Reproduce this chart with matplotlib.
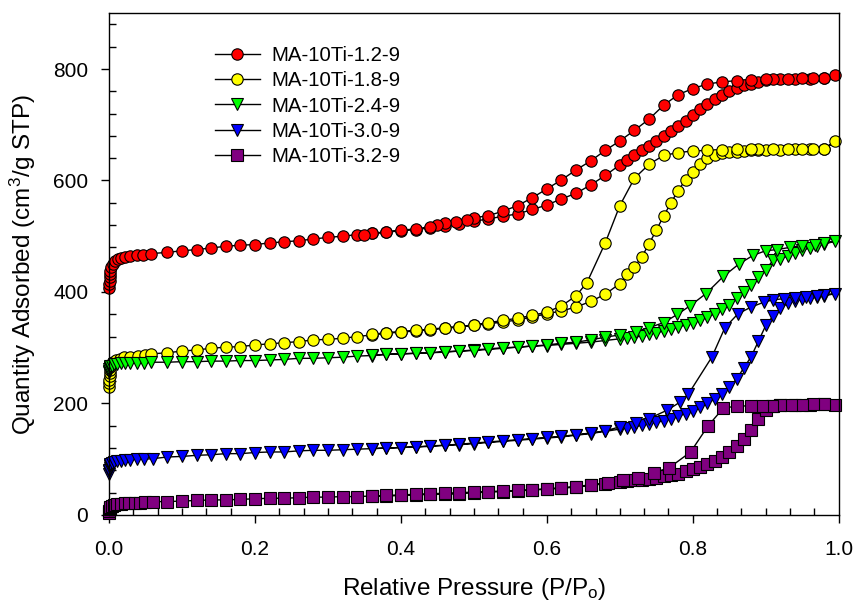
import matplotlib
matplotlib.use("Agg")
import matplotlib.pyplot as plt
from matplotlib.ticker import AutoMinorLocator

plt.rcParams['font.family'] = ['Liberation Sans', 'DejaVu Sans']
plt.rcParams['mathtext.fontset'] = 'custom'
plt.rcParams['mathtext.rm'] = 'Liberation Sans'
plt.rcParams['mathtext.it'] = 'Liberation Sans:italic'

# --- N2 isotherms: adsorption branch then desorption branch for each sample ---

# MA-10Ti-1.2-9
p_ads_12 = [0.0003, 0.0005, 0.0008, 0.001, 0.0015, 0.002, 0.003, 0.005, 0.008, 0.012, 0.016, 0.022, 0.029, 0.038, 0.047, 0.058,
            0.08, 0.10, 0.12, 0.14, 0.16, 0.18, 0.20, 0.22, 0.24, 0.26, 0.28, 0.30, 0.32, 0.34, 0.36, 0.38,
            0.40, 0.42, 0.44, 0.46, 0.48, 0.50, 0.52, 0.54, 0.56, 0.58, 0.60, 0.62, 0.64, 0.66, 0.68, 0.70,
            0.71, 0.72, 0.73, 0.74, 0.75, 0.76, 0.77, 0.78, 0.79, 0.80, 0.81, 0.82, 0.83, 0.84, 0.85, 0.86,
            0.87, 0.88, 0.89, 0.90, 0.92, 0.94, 0.96, 0.98, 0.995]
q_ads_12 = [408, 414, 420, 426, 432, 438, 444, 450, 455, 459, 461, 463, 464, 466, 467, 469,
            471, 474, 476, 479, 482, 484, 485, 488, 490, 492, 495, 498, 500, 503, 505, 507,
            510, 512, 515, 518, 522, 527, 531, 536, 540, 548, 556, 567, 577, 592, 609, 628,
            637, 645, 654, 662, 671, 680, 689, 698, 707, 717, 728, 738, 746, 753, 760, 766,
            771, 774, 777, 780, 782, 782, 782, 783, 790]
p_des_12 = [0.98, 0.965, 0.95, 0.93, 0.91, 0.90, 0.88, 0.86, 0.84, 0.82, 0.80, 0.78, 0.76, 0.74, 0.72, 0.70,
            0.68, 0.66, 0.64, 0.62, 0.60, 0.58, 0.56, 0.54, 0.52, 0.50, 0.49, 0.475, 0.46, 0.45, 0.44, 0.42,
            0.40, 0.38, 0.36, 0.35]
q_des_12 = [784, 783, 783, 782, 782, 782, 781, 779, 777, 773, 765, 754, 735, 710, 690, 671,
            654, 635, 619, 601, 585, 569, 555, 545, 537, 533, 530, 526, 523, 520, 517, 513,
            511, 508, 505, 503]

# MA-10Ti-1.8-9
p_ads_18 = [0.0002, 0.0004, 0.0006, 0.0008, 0.001, 0.0015, 0.002, 0.003, 0.006, 0.01, 0.015, 0.021, 0.029, 0.04, 0.049, 0.058,
            0.08, 0.10, 0.12, 0.14, 0.16, 0.18, 0.20, 0.22, 0.24, 0.26, 0.28, 0.30, 0.32, 0.34, 0.36, 0.38,
            0.40, 0.42, 0.44, 0.46, 0.48, 0.50, 0.52, 0.54, 0.56, 0.58, 0.60, 0.62, 0.64, 0.66, 0.68, 0.70,
            0.71, 0.72, 0.73, 0.74, 0.75, 0.76, 0.77, 0.78, 0.79, 0.80, 0.81, 0.82, 0.83, 0.84, 0.85, 0.86,
            0.87, 0.88, 0.89, 0.90, 0.92, 0.94, 0.96, 0.98, 0.995]
q_ads_18 = [229, 236, 243, 249, 255, 260, 265, 270, 274, 278, 280, 283, 284, 286, 287, 289,
            291, 294, 296, 299, 301, 302, 305, 307, 309, 311, 314, 315, 317, 320, 323, 326,
            328, 330, 332, 335, 337, 340, 343, 346, 350, 355, 361, 366, 373, 383, 396, 415,
            432, 445, 463, 486, 511, 536, 560, 582, 601, 616, 630, 640, 646, 649, 651, 652,
            653, 654, 655, 655, 655, 656, 656, 656, 670]
p_des_18 = [0.98, 0.965, 0.95, 0.93, 0.91, 0.89, 0.88, 0.86, 0.84, 0.82, 0.80, 0.78, 0.76, 0.74, 0.72, 0.70,
            0.68, 0.655, 0.64, 0.62, 0.60, 0.58, 0.56, 0.54, 0.52, 0.50, 0.48, 0.46, 0.44, 0.42, 0.40, 0.38, 0.36]
q_des_18 = [657, 657, 657, 657, 656, 656, 656, 656, 655, 654, 653, 650, 645, 629, 604, 555,
            488, 417, 393, 375, 364, 358, 353, 349, 345, 341, 338, 336, 333, 331, 329, 327, 324]

# MA-10Ti-2.4-9
p_ads_24 = [0.0002, 0.0004, 0.0006, 0.0008, 0.001, 0.0015, 0.002, 0.004, 0.007, 0.011, 0.016, 0.022, 0.029, 0.038, 0.048, 0.058,
            0.08, 0.10, 0.12, 0.14, 0.16, 0.18, 0.20, 0.22, 0.24, 0.26, 0.28, 0.30, 0.32, 0.34, 0.36, 0.38,
            0.40, 0.42, 0.44, 0.46, 0.48, 0.50, 0.52, 0.54, 0.56, 0.58, 0.60, 0.62, 0.64, 0.66, 0.68, 0.70,
            0.71, 0.72, 0.73, 0.74, 0.75, 0.76, 0.77, 0.78, 0.79, 0.80, 0.81, 0.82, 0.83, 0.84, 0.85, 0.86,
            0.87, 0.88, 0.89, 0.90, 0.91, 0.92, 0.93, 0.94, 0.95, 0.96, 0.97, 0.98, 0.995]
q_ads_24 = [256, 259, 261, 263, 265, 266, 267, 268, 270, 271, 272, 273, 273, 273, 273, 274,
            274, 275, 275, 276, 276, 277, 277, 278, 279, 281, 281, 282, 283, 285, 286, 288,
            289, 290, 291, 293, 294, 296, 298, 300, 301, 303, 304, 306, 308, 310, 313, 316,
            318, 319, 321, 324, 327, 330, 333, 337, 341, 345, 349, 355, 361, 369, 377, 389,
            400, 412, 426, 440, 457, 460, 464, 470, 475, 479, 483, 486, 491]
p_des_24 = [0.98, 0.968, 0.95, 0.933, 0.915, 0.90, 0.883, 0.863, 0.842, 0.818, 0.796, 0.779, 0.76, 0.74, 0.722,
            0.70, 0.68, 0.66, 0.64, 0.62, 0.60, 0.58, 0.56, 0.54, 0.52, 0.50, 0.48, 0.46, 0.44, 0.42,
            0.40, 0.38, 0.36]
q_des_24 = [488, 485, 483, 480, 476, 474, 466, 450, 428, 397, 375, 360, 345, 336, 329,
            323, 319, 314, 310, 308, 305, 303, 301, 299, 297, 295, 294, 292, 291, 290,
            289, 288, 287]

# MA-10Ti-3.0-9
p_ads_30 = [0.0002, 0.0004, 0.0006, 0.0008, 0.001, 0.0015, 0.002, 0.004, 0.007, 0.011, 0.016, 0.022, 0.029, 0.038, 0.048, 0.06,
            0.08, 0.10, 0.12, 0.14, 0.16, 0.18, 0.20, 0.22, 0.24, 0.26, 0.28, 0.30, 0.32, 0.34, 0.36, 0.38,
            0.40, 0.42, 0.44, 0.46, 0.48, 0.50, 0.52, 0.54, 0.56, 0.58, 0.60, 0.62, 0.64, 0.66, 0.68, 0.70,
            0.71, 0.72, 0.73, 0.74, 0.75, 0.76, 0.77, 0.78, 0.79, 0.80, 0.81, 0.82, 0.83, 0.84, 0.85, 0.86,
            0.87, 0.88, 0.89, 0.90, 0.91, 0.92, 0.93, 0.94, 0.95, 0.96, 0.97, 0.98, 0.995]
q_ads_30 = [74, 78, 81, 84, 87, 89, 91, 93, 95, 96, 97, 98, 99, 100, 100, 101,
            104, 105, 107, 108, 110, 110, 112, 113, 113, 115, 116, 116, 117, 118, 119, 120,
            121, 122, 123, 125, 126, 128, 130, 132, 134, 136, 138, 140, 143, 146, 150, 154,
            156, 158, 161, 164, 166, 169, 172, 177, 182, 187, 193, 200, 208, 217, 229, 244,
            264, 284, 312, 340, 357, 371, 380, 384, 387, 389, 391, 393, 397]
p_des_30 = [0.98, 0.97, 0.955, 0.94, 0.925, 0.91, 0.898, 0.88, 0.862, 0.844, 0.826, 0.794, 0.782, 0.765, 0.74,
            0.722, 0.70, 0.68, 0.66, 0.64, 0.62, 0.60, 0.58, 0.56, 0.54, 0.52, 0.50, 0.48, 0.46, 0.44,
            0.42, 0.40, 0.38, 0.36]
q_des_30 = [395, 393, 391, 389, 388, 386, 382, 373, 361, 336, 283, 217, 202, 188, 173,
            165, 158, 151, 147, 144, 141, 139, 137, 135, 133, 131, 129, 127, 125, 124,
            122, 121, 120, 119]

# MA-10Ti-3.2-9
p_ads_32 = [0.0002, 0.0004, 0.0007, 0.001, 0.002, 0.004, 0.007, 0.011, 0.016, 0.022, 0.028, 0.035, 0.042, 0.05, 0.06,
            0.08, 0.10, 0.12, 0.14, 0.16, 0.18, 0.20, 0.22, 0.24, 0.26, 0.28, 0.30, 0.32, 0.34, 0.36, 0.38,
            0.40, 0.42, 0.44, 0.46, 0.48, 0.50, 0.52, 0.54, 0.56, 0.58, 0.60, 0.62, 0.64, 0.66, 0.68, 0.70,
            0.71, 0.72, 0.73, 0.74, 0.75, 0.76, 0.77, 0.78, 0.79, 0.80, 0.81, 0.82, 0.83, 0.84, 0.85, 0.86,
            0.87, 0.88, 0.89, 0.90, 0.91, 0.92, 0.94, 0.96, 0.98, 0.995]
q_ads_32 = [3, 7, 10, 12, 14, 16, 18, 19, 20, 21, 21, 22, 22, 23, 24,
            24, 25, 26, 27, 27, 28, 29, 30, 30, 31, 32, 32, 33, 33, 34, 34,
            35, 36, 37, 37, 38, 40, 41, 42, 43, 45, 46, 48, 50, 53, 56, 59,
            61, 62, 63, 65, 67, 69, 72, 74, 78, 82, 86, 91, 96, 104, 113, 123,
            137, 153, 173, 188, 195, 197, 198, 198, 199, 198]
p_des_32 = [0.98, 0.965, 0.95, 0.935, 0.92, 0.908, 0.895, 0.88, 0.86, 0.842, 0.821, 0.797, 0.768, 0.747, 0.725,
            0.705, 0.684, 0.66, 0.64, 0.62, 0.60, 0.58, 0.56, 0.54, 0.52, 0.50, 0.48, 0.46, 0.44, 0.42,
            0.40, 0.38, 0.36]
q_des_32 = [199, 199, 198, 198, 197, 196, 196, 196, 195, 192, 160, 113, 85, 76, 67,
            63, 58, 54, 51, 49, 47, 45, 44, 43, 42, 41, 40, 39, 38, 37,
            36, 35, 34]

labels = ["MA-10Ti-1.2-9", "MA-10Ti-1.8-9", "MA-10Ti-2.4-9", "MA-10Ti-3.0-9", "MA-10Ti-3.2-9"]
colors = ["#ff0000", "#ffff00", "#00ff00", "#0000ff", "#800080"]
markers = ["o", "o", "v", "v", "s"]
sizes = [8.2, 8.2, 9.0, 9.0, 8.0]

x_ticks = [0.0, 0.2, 0.4, 0.6, 0.8, 1.0]
x_ticklabels = ["0.0", "0.2", "0.4", "0.6", "0.8", "1.0"]
y_ticks = [0, 200, 400, 600, 800]

series = [
    (p_ads_12 + p_des_12, q_ads_12 + q_des_12),
    (p_ads_18 + p_des_18, q_ads_18 + q_des_18),
    (p_ads_24 + p_des_24, q_ads_24 + q_des_24),
    (p_ads_30 + p_des_30, q_ads_30 + q_des_30),
    (p_ads_32 + p_des_32, q_ads_32 + q_des_32),
]

fig = plt.figure(figsize=(8.55, 6.03), dpi=100)
ax = fig.add_axes([0.1275, 0.146, 0.8535, 0.832])

# one continuous line per sample: up the adsorption branch, back down the desorption branch
for (p, q), lab, c, m, s in zip(series, labels, colors, markers, sizes):
    ax.plot(p, q, color="black", linewidth=1.0, marker=m, markersize=s,
            markerfacecolor=c, markeredgecolor="black", markeredgewidth=0.8,
            label=lab, clip_on=False)

ax.set_xlim(0, 1.0)
ax.set_ylim(0, 900)
ax.set_xticks(x_ticks)
ax.set_xticklabels(x_ticklabels)
ax.set_yticks(y_ticks)
ax.xaxis.set_minor_locator(AutoMinorLocator(6))
ax.yaxis.set_minor_locator(AutoMinorLocator(5))

# major ticks point out, minor ticks point in, nothing on top/right
ax.tick_params(which="major", direction="out", length=6, width=1.0, labelsize=15, pad=12)
ax.tick_params(which="minor", direction="in", length=5, width=1.0)
ax.tick_params(axis="y", which="major", pad=9)
for sp in ax.spines.values():
    sp.set_linewidth(1.0)

ax.set_xlabel(r"Relative Pressure (P/P$_{\mathrm{o}}$)", fontsize=17.5, labelpad=12)
ax.set_ylabel(r"Quantity Adsorbed (cm$^{3}$/g STP)", fontsize=17.5, labelpad=11)

ax.legend(loc="upper left", bbox_to_anchor=(0.145, 0.935), frameon=False, fontsize=14.7,
          handlelength=2.2, handletextpad=0.55, labelspacing=0.31, borderpad=0, borderaxespad=0,
          numpoints=1)

plt.savefig("out.png", dpi=100)
plt.close()
